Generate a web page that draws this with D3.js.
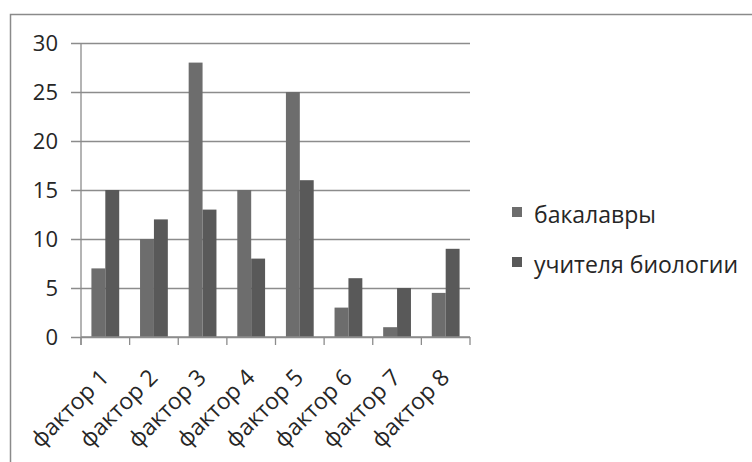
<!DOCTYPE html>
<html>
<head>
<meta charset="utf-8">
<script src="https://cdn.jsdelivr.net/npm/d3@7"></script>
<style>
  html, body { margin: 0; padding: 0; background: #fff; }
  svg { display: block; }
  text { font-family: "Open Sans", "Liberation Sans", sans-serif; fill: #262626; }
</style>
</head>
<body>
<svg id="chart" width="752" height="462"></svg>
<script>
const categories = ["фактор 1", "фактор 2", "фактор 3", "фактор 4", "фактор 5", "фактор 6", "фактор 7", "фактор 8"];
const seriesNames = ["бакалавры", "учителя биологии"];
const bachelors = [7, 10, 28, 15, 25, 3, 1, 4.5];
const teachers = [15, 12, 13, 8, 16, 6, 5, 9];
const yTicks = [0, 5, 10, 15, 20, 25, 30];
const colors = ["#6d6d6d", "#595959"];

const svg = d3.select("#chart");
const W = 752, H = 462;
const plot = { left: 81, right: 470, top: 43, bottom: 337 };

// outer chart border (runs off the right and bottom edges)
svg.append("rect")
  .attr("x", 10.5).attr("y", 14.5)
  .attr("width", W + 10).attr("height", H + 10)
  .attr("fill", "#fff")
  .attr("stroke", "#8a8a8a").attr("stroke-width", 1.5);

const x = d3.scaleBand().domain(categories).range([plot.left, plot.right]).paddingInner(0).paddingOuter(0);
const inner = d3.scaleBand().domain(seriesNames).range([0, x.bandwidth()]).paddingInner(0).paddingOuter(0.75);
const y = d3.scaleLinear().domain([0, 30]).range([plot.bottom, plot.top]);

// horizontal gridlines with short ticks left of the axis
const yAxis = d3.axisLeft(y).tickValues(yTicks).tickSize(-(plot.right - plot.left + 10)).tickPadding(13)
  .tickFormat(d3.format("d"));
const gy = svg.append("g").attr("transform", `translate(${plot.left - 10},0)`).call(yAxis);
gy.select(".domain").remove();
gy.selectAll(".tick line").attr("stroke", "#8c8c8c").attr("stroke-width", 1.3);
gy.selectAll(".tick text").attr("font-size", 22).attr("fill", "#262626").attr("dy", "0.36em");

// vertical value axis line
svg.append("line")
  .attr("x1", plot.left).attr("x2", plot.left)
  .attr("y1", plot.top).attr("y2", plot.bottom + 8)
  .attr("stroke", "#8c8c8c").attr("stroke-width", 1.3);

// bars
const data = categories.map((c, i) => ({ cat: c, vals: [bachelors[i], teachers[i]] }));
const groups = svg.append("g").selectAll("g").data(data).join("g")
  .attr("transform", d => `translate(${x(d.cat)},0)`);
groups.selectAll("rect")
  .data(d => d.vals.map((v, j) => ({ name: seriesNames[j], v, j })))
  .join("rect")
  .attr("x", d => inner(d.name))
  .attr("width", inner.bandwidth())
  .attr("y", d => y(d.v))
  .attr("height", d => y(0) - y(d.v))
  .attr("fill", d => colors[d.j]);

// category axis
const xAxis = d3.axisBottom(x).tickSize(0).tickFormat(d => d);
const gx = svg.append("g").attr("transform", `translate(0,${plot.bottom})`).call(xAxis);
gx.select(".domain").attr("stroke", "#8c8c8c").attr("stroke-width", 1.3)
  .attr("d", `M${plot.left},0H${plot.right}`);
gx.selectAll(".tick line").remove();
gx.selectAll(".tick text")
  .attr("font-size", 23).attr("fill", "#262626")
  .attr("text-anchor", "end")
  .attr("x", 0).attr("y", 0).attr("dy", 0)
  .attr("transform", "translate(5,42) rotate(-45)");

// category boundary ticks
const bounds = categories.map(c => x(c)).concat([plot.right]);
svg.append("g").selectAll("line").data(bounds).join("line")
  .attr("x1", d => d).attr("x2", d => d)
  .attr("y1", plot.bottom).attr("y2", plot.bottom + 8)
  .attr("stroke", "#8c8c8c").attr("stroke-width", 1.3);

// legend
const legend = svg.append("g").selectAll("g").data(seriesNames).join("g")
  .attr("transform", (d, i) => `translate(512,${207 + i * 50})`);
legend.append("rect").attr("width", 10).attr("height", 10).attr("fill", (d, i) => colors[i]);
legend.append("text").attr("x", 22).attr("y", 16)
  .attr("font-size", 23).text(d => d);
</script>
</body>
</html>
